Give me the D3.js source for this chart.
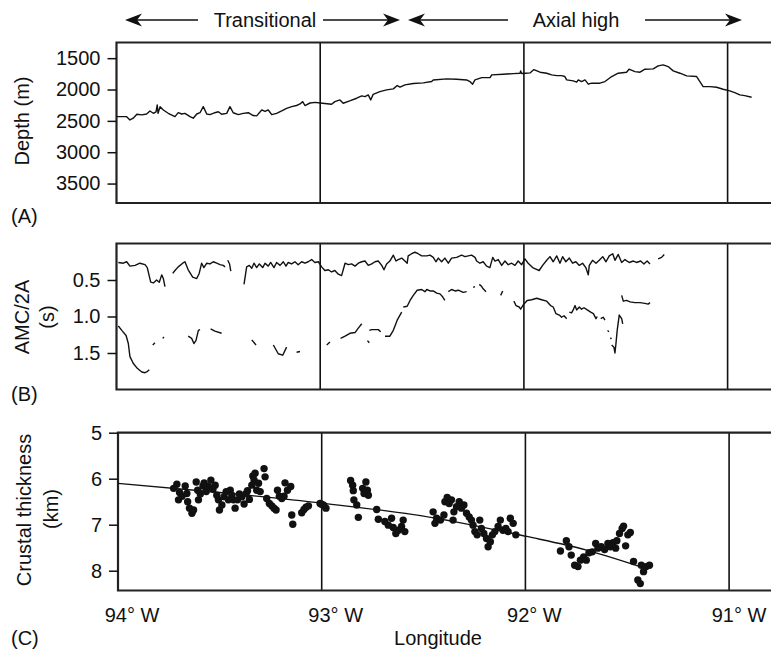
<!DOCTYPE html>
<html><head><meta charset="utf-8">
<script src="https://cdn.jsdelivr.net/npm/d3@7"></script>
<style>
body{margin:0;background:#fff}
svg text{font-family:"Liberation Sans",Arial,Helvetica,sans-serif;fill:#111}
</style></head>
<body><svg id="chart" width="771" height="652"></svg>
<script>
// ---------- DATA (longitude in degrees West) ----------
const lonTicks = [94, 93, 92, 91];
const lonTickLabels = ["94\u00B0 W", "93\u00B0 W", "92\u00B0 W", "91\u00B0 W"];
const regionNames = ["Transitional", "Axial high"];

// (A) bathymetric depth (m)
const depthLon = [94.00,93.95,93.934,93.918,93.90,93.876,93.852,93.836,93.819,93.806,93.80,93.796,93.786,93.770,93.746,93.713,93.697,93.68,93.664,93.639,93.623,93.606,93.59,93.574,93.557,93.541,93.517,93.50,93.484,93.459,93.443,93.427,93.402,93.378,93.353,93.329,93.312,93.287,93.271,93.255,93.238,93.214,93.189,93.165,93.14,93.116,93.099,93.086,93.075,93.05,93.025,93.00,92.944,92.928,92.903,92.887,92.855,92.821,92.796,92.78,92.764,92.752,92.74,92.707,92.674,92.641,92.622,92.608,92.584,92.543,92.494,92.453,92.445,92.379,92.33,92.281,92.265,92.252,92.24,92.207,92.166,92.158,92.101,92.052,92.019,92.016,92.011,91.991,91.97,91.951,91.921,91.888,91.864,91.839,91.815,91.799,91.79,91.758,91.741,91.733,91.717,91.70,91.684,91.667,91.627,91.602,91.569,91.537,91.496,91.484,91.455,91.43,91.406,91.365,91.341,91.316,91.292,91.267,91.234,91.201,91.152,91.136,91.12,91.087,91.054,91.022,90.989,90.965,90.94,90.916,90.882];
const depthVal = [2433,2433,2486,2458,2395,2405,2390,2342,2379,2355,2246,2380,2273,2326,2379,2433,2369,2390,2380,2433,2458,2390,2370,2273,2390,2400,2370,2355,2395,2380,2273,2370,2400,2380,2370,2415,2420,2326,2350,2326,2400,2380,2342,2300,2273,2255,2230,2193,2255,2215,2205,2215,2235,2193,2166,2219,2182,2139,2102,2113,2086,2166,2077,2033,2006,1990,1937,1962,1926,1905,1894,1873,1847,1830,1836,1847,1873,1915,1847,1810,1810,1767,1756,1746,1740,1703,1745,1740,1735,1682,1724,1740,1767,1778,1778,1793,1847,1862,1883,1847,1873,1847,1915,1899,1899,1873,1793,1740,1724,1676,1714,1724,1676,1671,1623,1607,1634,1703,1740,1783,1793,1873,1953,1953,1964,1995,2022,2049,2086,2097,2123];

// (B) AMC two-way time (s); null marks a gap in the trace
const amcUpperLon = [93.991,93.967,93.950,93.934,93.909,93.885,93.860,93.849,93.832,93.819,93.803,93.790,93.778,93.770,93.762,null,
93.724,93.713,93.697,93.675,93.664,93.648,93.626,93.606,93.594,93.582,93.571,93.557,93.541,93.525,93.508,93.492,93.476,93.467,null,
93.454,93.445,93.439,null,
93.374,93.361,93.348,93.336,93.325,93.312,93.299,93.282,93.271,93.255,93.243,93.227,93.214,93.197,93.181,93.168,93.157,93.140,93.124,93.108,93.091,93.075,93.059,93.042,93.026,93.009,92.993,92.977,92.960,92.944,92.928,92.911,92.895,92.878,92.862,92.846,92.829,92.813,92.796,92.780,92.764,92.747,92.731,92.715,92.698,92.687,92.674,92.658,92.641,92.628,92.617,92.600,92.584,92.573,92.568,92.551,92.535,92.519,92.502,92.477,92.461,92.445,92.432,92.420,92.404,92.388,92.371,92.355,92.330,92.306,92.289,92.273,92.257,92.240,92.232,92.216,92.200,92.183,92.167,92.153,92.142,92.126,92.109,92.093,92.077,92.060,92.044,92.028,92.011,91.995,91.979,91.957,91.941,91.925,91.908,91.888,91.872,91.856,91.839,91.823,91.810,91.794,91.777,91.761,91.745,91.728,91.712,91.696,91.684,91.679,91.663,91.646,91.630,91.613,91.597,91.581,91.564,91.553,91.537,91.520,91.504,91.483,91.463,91.447,91.427,91.411,91.395,91.381,null,
91.341,91.324,91.311];
const amcUpperVal = [0.26,0.27,0.25,0.31,0.30,0.27,0.29,0.33,0.53,0.54,0.50,0.53,0.43,0.48,0.59,null,
0.41,0.37,0.32,0.27,0.25,0.36,0.46,0.48,0.41,0.27,0.33,0.27,0.28,0.25,0.27,0.29,0.30,0.32,null,
0.23,0.28,0.38,null,
0.56,0.32,0.30,0.34,0.27,0.33,0.28,0.33,0.27,0.31,0.26,0.33,0.26,0.30,0.25,0.31,0.26,0.28,0.25,0.29,0.25,0.27,0.25,0.22,0.26,0.25,0.32,0.37,0.36,0.39,0.37,0.42,0.44,0.27,0.29,0.28,0.31,0.27,0.25,0.24,0.30,0.28,0.25,0.24,0.30,0.36,0.28,0.24,0.16,0.24,0.22,0.20,0.24,0.27,0.17,0.14,0.12,0.14,0.17,0.17,0.16,0.19,0.25,0.20,0.25,0.20,0.27,0.20,0.19,0.16,0.18,0.17,0.16,0.19,0.24,0.27,0.25,0.31,0.33,0.19,0.24,0.22,0.30,0.24,0.29,0.27,0.30,0.24,0.29,0.21,0.27,0.33,0.35,0.37,0.30,0.23,0.18,0.25,0.17,0.27,0.18,0.25,0.20,0.27,0.25,0.30,0.27,0.33,0.43,0.30,0.23,0.27,0.23,0.18,0.25,0.17,0.14,0.23,0.15,0.26,0.22,0.26,0.24,0.26,0.24,0.28,0.24,0.28,null,
0.21,0.19,0.15];
const amcLowerLon = [93.991,93.974,93.953,93.942,93.934,93.918,93.898,93.876,93.860,93.852,93.839,null,
93.822,93.811,null,93.773,93.767,null,
93.648,93.631,93.620,93.610,93.598,93.590,null,
93.538,93.517,93.484,null,93.336,93.315,null,
93.230,93.206,93.184,93.165,null,93.116,93.099,null,92.968,92.952,null,
92.900,92.878,92.854,92.829,92.813,92.796,null,92.768,92.759,null,
92.759,92.747,92.715,92.703,null,
92.682,92.658,92.641,92.622,92.600,null,
92.592,92.573,92.559,92.543,92.524,92.502,92.486,92.477,92.461,92.445,92.428,92.412,92.399,92.388,null,
92.371,92.355,92.338,92.322,92.298,92.281,null,92.249,92.240,null,
92.219,92.207,92.200,92.186,null,92.114,92.104,null,
92.049,92.039,92.023,92.016,92.003,91.984,91.962,91.937,91.913,91.888,91.869,91.856,91.843,91.826,91.815,91.803,91.790,null,
91.777,91.766,91.758,91.749,91.741,91.728,91.717,91.705,91.689,91.672,91.659,91.646,91.640,null,
91.623,91.611,91.602,null,91.589,91.583,null,91.575,91.571,null,
91.569,91.558,91.553,91.548,91.542,91.532,91.520,91.515,null,
91.520,91.512,91.496,91.479,91.455,91.430,91.406,91.390,91.381];
const amcLowerVal = [1.13,1.19,1.26,1.37,1.55,1.64,1.71,1.76,1.77,1.76,1.73,null,
1.39,1.36,null,1.30,1.28,null,
1.27,1.30,1.37,1.33,1.19,1.18,null,
1.17,1.20,1.23,null,1.32,1.39,null,
1.39,1.51,1.53,1.42,null,1.49,1.48,null,1.39,1.35,null,
1.30,1.27,1.23,1.22,1.16,1.10,null,1.33,1.36,null,
1.19,1.18,1.18,1.21,null,
1.27,1.27,1.19,1.05,0.94,null,
0.87,0.86,0.78,0.71,0.64,0.63,0.66,0.63,0.65,0.65,0.68,0.69,0.73,0.78,null,
0.66,0.63,0.65,0.64,0.67,0.66,null,0.60,0.59,null,
0.56,0.59,0.62,0.66,null,0.71,0.65,null,
0.79,0.85,0.87,0.90,0.84,0.78,0.77,0.75,0.77,0.79,0.85,0.87,0.96,0.98,1.01,0.99,1.03,null,
0.94,0.95,0.91,0.85,0.91,0.87,0.90,0.88,0.91,0.94,0.96,1.03,1.00,null,
1.03,1.01,1.05,null,1.19,1.21,null,1.29,1.31,null,
1.39,1.42,1.50,1.37,1.19,0.98,1.03,1.10,null,
0.71,0.79,0.78,0.80,0.81,0.81,0.82,0.83,0.81];

// (C) crustal thickness (km)
const crustLon = [93.727,93.711,93.698,93.703,93.686,93.670,93.662,93.658,93.649,93.637,93.629,93.616,93.609,93.605,93.596,93.583,93.577,93.567,93.556,93.544,93.534,93.523,93.515,93.507,93.502,93.490,93.479,93.469,93.458,93.449,93.441,93.433,93.425,93.413,93.404,93.392,93.381,93.371,93.364,93.355,93.343,93.338,93.332,93.327,93.319,93.310,93.302,93.283,93.278,93.270,93.257,93.245,93.234,93.224,93.217,93.208,93.196,93.185,93.180,93.168,93.152,93.147,93.142,93.098,93.087,93.077,93.065,93.003,92.989,92.979,
93.008,92.992,
92.858,92.848,92.845,92.842,92.828,92.820,92.799,92.792,92.783,92.776,92.771,92.730,92.722,92.690,92.673,92.657,92.649,92.636,92.624,92.608,92.600,92.592,
92.453,92.444,92.436,92.417,92.400,92.395,92.384,92.374,92.363,92.355,92.351,92.338,92.325,92.314,92.302,92.289,92.276,92.265,92.257,92.248,92.237,92.224,92.216,92.204,92.191,92.183,92.172,92.162,92.150,92.134,92.123,92.110,92.096,92.085,92.074,92.060,92.047,
91.828,91.799,91.786,91.775,91.758,91.742,91.730,91.714,91.701,91.688,91.672,91.655,91.644,91.628,91.611,91.595,91.583,91.570,91.557,91.551,91.538,91.525,91.518,91.508,91.497,91.485,91.469,91.448,91.436,91.431,91.420,91.407,91.391];
const crustVal = [6.21,6.12,6.30,6.46,6.38,6.16,6.32,6.50,6.64,6.75,6.68,6.07,6.25,6.46,6.33,6.16,6.09,6.28,6.17,6.03,6.23,6.14,6.36,6.46,6.68,6.57,6.39,6.28,6.46,6.25,6.36,6.46,6.64,6.46,6.33,6.39,6.55,6.32,6.26,6.45,6.14,5.94,6.03,5.88,6.25,6.10,6.28,5.78,5.96,6.43,6.54,6.59,6.64,6.68,6.25,6.38,6.43,6.38,6.09,6.25,6.17,6.79,6.99,6.74,6.67,6.62,6.59,6.55,6.59,6.64,
6.54,6.57,
6.04,6.14,6.26,6.46,6.57,6.84,6.21,6.32,6.07,6.25,6.36,6.67,6.88,6.93,7.01,6.86,7.06,7.19,7.12,7.04,6.90,7.15,
6.72,6.97,6.86,6.90,6.79,6.50,6.41,6.54,6.46,6.90,6.72,6.61,6.50,6.64,6.57,6.75,6.83,6.90,7.01,7.15,7.22,6.90,7.08,7.19,7.30,7.48,7.37,7.22,7.15,7.04,6.90,7.12,7.08,7.15,6.86,6.97,7.22,
7.57,7.35,7.48,7.66,7.88,7.91,7.77,7.70,7.77,7.61,7.59,7.41,7.51,7.48,7.54,7.41,7.48,7.39,7.51,7.35,7.19,7.08,7.03,7.46,7.22,7.17,7.80,8.20,8.28,7.88,8.02,7.91,7.88];
// fitted trend
const trendLon = [94.0, 93.5, 93.0, 92.45, 92.0, 91.7, 91.43];
const trendVal = [6.10, 6.30, 6.53, 6.85, 7.25, 7.55, 7.92];

const depthTicks = [1500, 2000, 2500, 3000, 3500];
const amcTicks = [0.5, 1.0, 1.5];
const crustTicks = [5, 6, 7, 8];

// ---------- DRAW ----------
const svg = d3.select("#chart");
const FS = 20, ink = "#111";
const pxPerDeg = 203.7;
const lonEnd = 90.75;
const mkX = x0 => d3.scaleLinear().domain([94, lonEnd]).range([x0, x0 + (94 - lonEnd) * pxPerDeg]);

const panels = [
  {x: mkX(116.5), y: d3.scaleLinear().domain([1250, 3810]).range([42.5, 203]), ticks: depthTicks, fmt: d3.format("d"), label: ["Depth (m)"], tag: "(A)", tagY: 223},
  {x: mkX(116.5), y: d3.scaleLinear().domain([0, 2.0]).range([243.5, 389.5]), ticks: amcTicks, fmt: d3.format(".1f"), label: ["AMC/2A", "(s)"], tag: "(B)", tagY: 401},
  {x: mkX(118), y: d3.scaleLinear().domain([5, 8.43]).range([432.7, 590.5]), ticks: crustTicks, fmt: d3.format("d"), label: ["Crustal thickness", "(km)"], tag: "(C)", tagY: 645}
];

panels.forEach(p => {
  const [y0, y1] = p.y.range();
  const x0 = p.x.range()[0];
  const g = svg.append("g");
  // grid verticals at whole degrees
  g.selectAll("line.v").data(lonTicks.slice(1)).join("line")
    .attr("x1", d => p.x(d)).attr("x2", d => p.x(d)).attr("y1", y0).attr("y2", y1)
    .attr("stroke", ink).attr("stroke-width", 1.6);
  // frame
  g.append("path").attr("d", `M${x0 + 800},${y0}H${x0}V${y1}H${x0 + 800}`)
    .attr("fill", "none").attr("stroke", "#222").attr("stroke-width", 2.2);
  // y axis
  const ax = g.append("g").attr("transform", `translate(${x0},0)`)
    .call(d3.axisLeft(p.y).tickValues(p.ticks).tickFormat(p.fmt).tickSize(9).tickPadding(7));
  ax.select(".domain").remove();
  ax.selectAll(".tick line").attr("stroke", ink).attr("stroke-width", 1.5);
  ax.selectAll(".tick text").attr("font-size", FS).attr("font-family", "Liberation Sans, Arial, sans-serif").attr("fill", ink);
  // tag
  svg.append("text").attr("x", 11).attr("y", p.tagY).attr("font-size", FS).text(p.tag);
  p.g = g;
});

// axis titles
const yMid = p => (p.y.range()[0] + p.y.range()[1]) / 2;
svg.append("text").attr("transform", `translate(29,121) rotate(-90)`).attr("text-anchor", "middle").attr("font-size", FS).text("Depth (m)");
svg.append("text").attr("transform", `translate(29,317) rotate(-90)`).attr("text-anchor", "middle").attr("font-size", FS).text("AMC/2A");
svg.append("text").attr("transform", `translate(54,317) rotate(-90)`).attr("text-anchor", "middle").attr("font-size", FS).text("(s)");
svg.append("text").attr("transform", `translate(31,510) rotate(-90)`).attr("text-anchor", "middle").attr("font-size", FS).text("Crustal thickness");
svg.append("text").attr("transform", `translate(58,509) rotate(-90)`).attr("text-anchor", "middle").attr("font-size", FS).text("(km)");

// (A) depth line
const pA = panels[0];
const depthPts = depthLon.map((d, i) => [d, depthVal[i]]);
pA.g.append("path").datum(depthPts)
  .attr("d", d3.line().x(d => pA.x(d[0])).y(d => pA.y(d[1])))
  .attr("fill", "none").attr("stroke", ink).attr("stroke-width", 1.4).attr("stroke-linejoin", "round");

// (B) AMC traces
const pB = panels[1];
const segLine = d3.line().defined(d => d[0] != null && d[1] != null).x(d => pB.x(d[0])).y(d => pB.y(d[1]));
[[amcUpperLon, amcUpperVal], [amcLowerLon, amcLowerVal]].forEach(([L, V]) => {
  pB.g.append("path").datum(L.map((d, i) => [d, V[i]]))
    .attr("d", segLine).attr("fill", "none").attr("stroke", ink).attr("stroke-width", 1.4).attr("stroke-linejoin", "round");
});

// (C) crustal thickness
const pC = panels[2];
pC.g.append("path").datum(trendLon.map((d, i) => [d, trendVal[i]]))
  .attr("d", d3.line().curve(d3.curveMonotoneX).x(d => pC.x(d[0])).y(d => pC.y(d[1])))
  .attr("fill", "none").attr("stroke", ink).attr("stroke-width", 1.3);
pC.g.selectAll("circle").data(crustLon.map((d, i) => [d, crustVal[i]])).join("circle")
  .attr("cx", d => pC.x(d[0])).attr("cy", d => pC.y(d[1])).attr("r", 3.7).attr("fill", ink);

// longitude labels
svg.selectAll("text.lon").data(lonTicks).join("text").attr("class", "lon")
  .attr("x", (d, i) => pC.x(d) + [14, 14, 9, 10][i]).attr("y", 622).attr("text-anchor", "middle").attr("font-size", FS)
  .text((d, i) => lonTickLabels[i]);
svg.append("text").attr("x", 438).attr("y", 645).attr("text-anchor", "middle").attr("font-size", FS).text("Longitude");

// region arrows on top
const arrowY = 20;
function arrowHead(x, dir) {
  // dir = -1 points left, +1 points right
  const L = 17, H = 6.5, N = 12;
  return `M${x},${arrowY}L${x - dir * L},${arrowY - H}L${x - dir * N},${arrowY}L${x - dir * L},${arrowY + H}Z`;
}
const arrows = [
  {name: regionNames[0], l: 125, r: 400, tl: 198, tr: 323, tx: 265},
  {name: regionNames[1], l: 408, r: 742, tl: 508, tr: 645, tx: 576}
];
arrows.forEach(a => {
  svg.append("line").attr("x1", a.l + 8).attr("x2", a.tl).attr("y1", arrowY).attr("y2", arrowY).attr("stroke", ink).attr("stroke-width", 1.5);
  svg.append("line").attr("x1", a.tr).attr("x2", a.r - 8).attr("y1", arrowY).attr("y2", arrowY).attr("stroke", ink).attr("stroke-width", 1.5);
  svg.append("path").attr("d", arrowHead(a.l, -1)).attr("fill", ink);
  svg.append("path").attr("d", arrowHead(a.r, 1)).attr("fill", ink);
  svg.append("text").attr("x", a.tx).attr("y", arrowY + 7).attr("text-anchor", "middle").attr("font-size", FS).text(a.name);
});
</script>
</body></html>
